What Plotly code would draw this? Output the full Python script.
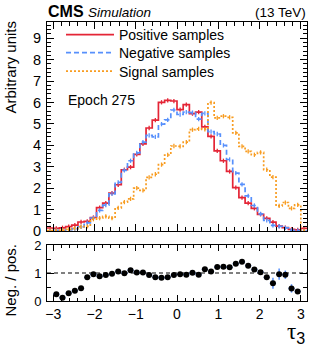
import numpy as np
import plotly.graph_objects as go

# ---------------- data ----------------
bin_low, bin_high = -3.15, 3.15

positive = [0.14, 0.12, 0.15, 0.20, 0.27, 0.42, 0.45, 0.63, 1.09, 1.30,
            1.77, 2.16, 2.86, 2.98, 3.58, 4.07, 4.81, 5.18, 6.01, 6.10,
            6.07, 5.67, 5.90, 5.48, 5.55, 4.86, 4.42, 3.74, 3.28, 2.78,
            2.03, 1.56, 1.30, 1.06, 0.78, 0.59, 0.41, 0.23, 0.16, 0.08,
            0.05, 0.12]

negative = [0.00, 0.029, 0.018, 0.056, 0.10, 0.19, 0.38, 0.60, 0.96, 1.21,
            1.73, 2.27, 2.83, 3.28, 3.65, 4.15, 4.47, 4.40, 4.99, 5.19,
            5.65, 5.44, 5.55, 5.53, 5.22, 5.49, 4.64, 4.53, 4.00, 3.34,
            2.70, 2.18, 1.64, 1.19, 0.80, 0.50, 0.26, 0.22, 0.15, 0.036,
            0.017, 0.00]

signal = [0.02, 0.02, 0.03, 0.08, 0.12, 0.20, 0.22, 0.55, 0.60, 0.68,
          0.60, 1.08, 1.35, 1.50, 2.00, 1.90, 2.50, 2.65, 3.10, 3.55,
          3.97, 3.95, 4.15, 4.73, 4.77, 4.75, 6.00, 5.28, 5.36, 5.31,
          4.58, 3.95, 3.72, 3.56, 3.67, 2.86, 2.52, 1.17, 1.33, 1.06,
          1.22, 0.00]

ratio_err = [0.06, 0.06, 0.06, 0.06, 0.05, 0.05, 0.05, 0.05, 0.05, 0.05,
             0.05, 0.05, 0.05, 0.05, 0.05, 0.05, 0.05, 0.05, 0.05, 0.05,
             0.05, 0.05, 0.05, 0.05, 0.05, 0.05, 0.05, 0.05, 0.05, 0.05,
             0.05, 0.05, 0.05, 0.05, 0.06, 0.08, 0.20, 0.20, 0.15, 0.15,
             0.00, 0.00]

hist_err = 0.1

# ---------------- derived ----------------
n = len(positive)
edges = np.linspace(bin_low, bin_high, n + 1)
centers = 0.5 * (edges[:-1] + edges[1:])
half_w = 0.5 * (edges[1] - edges[0])

pos = np.array(positive)
neg = np.array(negative)
sig = np.array(signal)
mask = neg > 0
ratio = np.where(mask, neg / np.where(pos > 0, pos, 1), np.nan)

RED = "#e42536"
BLUE = "#5790fc"
ORANGE = "#f89c20"
FONT = "Liberation Sans, Arial, Helvetica, sans-serif"

W, H = 319, 348
ML, MR, MT, MB = 47, 12, 22, 47


def px(x):
    return (x - ML) / (W - ML - MR)


def py(y):
    return (H - MB - y) / (H - MT - MB)


fig = go.Figure()

series = [
    ("Positive samples", pos, RED, "solid", "legend", 35),
    ("Negative samples", neg, BLUE, "5px,3px", "legend2", 53),
    ("Signal samples", sig, ORANGE, "2px,2px", "legend3", 71.5),
]
legend_cfg = {}
for name, vals, col, dash, leg, ly in series:
    fig.add_trace(go.Scatter(
        x=edges, y=np.append(vals, vals[-1]), mode="lines", line_shape="hv",
        line=dict(color=col, width=1.7, dash=dash), name=name,
        legendgroup=name, legend=leg, xaxis="x", yaxis="y"))
    fig.add_trace(go.Scatter(
        x=centers, y=vals, mode="markers", marker=dict(size=1, color=col, opacity=0),
        error_y=dict(type="constant", value=hist_err, color=col, thickness=1.3, width=0),
        showlegend=False, legendgroup=name, legend=leg, xaxis="x", yaxis="y",
        hoverinfo="skip"))
    legend_cfg[leg] = dict(x=px(61), y=py(ly), xanchor="left", yanchor="middle",
                           bgcolor="rgba(0,0,0,0)", font=dict(size=14, family=FONT),
                           itemwidth=48, borderwidth=0)

# ratio panel
fig.add_trace(go.Scatter(
    x=centers[mask], y=ratio[mask], mode="markers",
    marker=dict(size=6, color="black"),
    error_y=dict(type="data", array=np.array(ratio_err)[mask], color=BLUE, thickness=1.5, width=0),
    error_x=dict(type="constant", value=half_w, color=BLUE, thickness=1.5, width=0),
    showlegend=False, xaxis="x2", yaxis="y2"))

fig.add_shape(type="line", xref="x2 domain", yref="y2", x0=0, x1=1, y0=1, y1=1,
              line=dict(color="black", width=1, dash="4px,3px"), layer="below")

ax_common = dict(showline=True, linecolor="black", linewidth=1, mirror="ticks",
                 ticks="inside", tickcolor="black", showgrid=False, zeroline=False)

fig.update_layout(
    width=W, height=H,
    margin=dict(l=ML, r=MR, t=MT, b=MB),
    paper_bgcolor="white", plot_bgcolor="white",
    font=dict(family=FONT, color="black"),
    xaxis=dict(domain=[0, 1], anchor="y", range=[bin_low, bin_high], showticklabels=False,
               dtick=1, tick0=0, ticklen=7,
               minor=dict(dtick=0.2, ticklen=4, ticks="inside", tickcolor="black"),
               **ax_common),
    yaxis=dict(domain=[py(231), 1], anchor="x", range=[0, 9.76], dtick=1, tick0=0, ticklen=7,
               tickfont=dict(size=14.5), ticklabelstandoff=2,
               minor=dict(dtick=0.2, ticklen=4, ticks="inside", tickcolor="black"),
               **ax_common),
    xaxis2=dict(domain=[0, 1], anchor="y2", range=[bin_low, bin_high], dtick=1, tick0=0,
                ticklen=6, tickfont=dict(size=14),
                minor=dict(dtick=0.2, ticklen=3, ticks="inside", tickcolor="black"),
                **ax_common),
    yaxis2=dict(domain=[0, py(245)], anchor="x2", range=[0, 2], dtick=1, tick0=0, ticklen=7,
                tickfont=dict(size=13), ticklabelstandoff=2,
                minor=dict(dtick=0.5, ticklen=4, ticks="inside", tickcolor="black"),
                **ax_common),
    showlegend=True,
    **legend_cfg,
)

annotations = [
    dict(text="<b>CMS</b>", x=px(46), y=py(11.5), xanchor="left", yanchor="middle",
         font=dict(size=16)),
    dict(text="<i>Simulation</i>", x=px(86), y=py(12), xanchor="left", yanchor="middle",
         font=dict(size=13.5)),
    dict(text="(13 TeV)", x=px(308), y=py(12.5), xanchor="right", yanchor="middle",
         font=dict(size=13.5)),
    dict(text="Epoch 275", x=px(66), y=py(100), xanchor="left", yanchor="middle",
         font=dict(size=14)),
    dict(text="Arbitrary units", x=px(10), y=py(19), xanchor="center", yanchor="top",
         textangle=-90, font=dict(size=15)),
    dict(text="Neg. / pos.", x=px(10), y=py(242), xanchor="center", yanchor="top",
         textangle=-90, font=dict(size=15)),
    dict(text="<span style='font-family:Liberation Serif'>τ</span><sub>3</sub>",
         x=px(307), y=py(333), xanchor="right", yanchor="middle", font=dict(size=23)),
]
for a in annotations:
    a.update(xref="paper", yref="paper", showarrow=False)
fig.update_layout(annotations=annotations)

fig.write_html("out.html", config={"displayModeBar": False},
               post_script="document.body.style.margin='0';")
